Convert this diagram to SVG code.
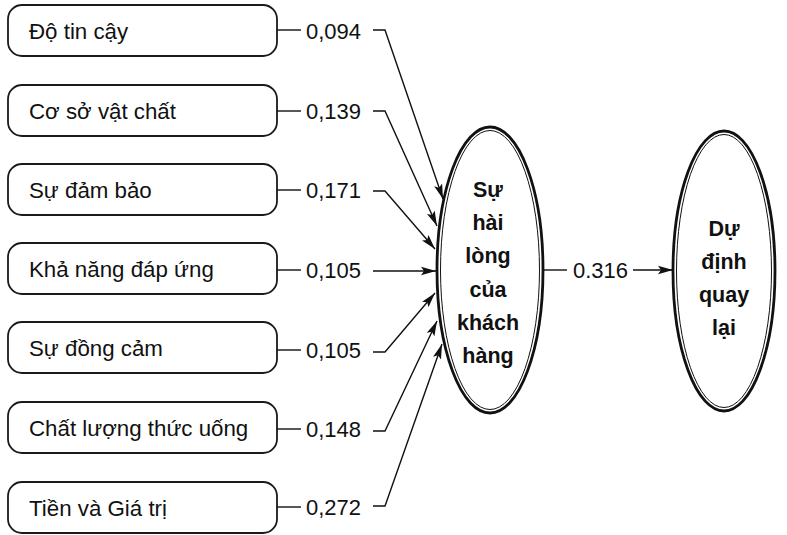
<svg xmlns="http://www.w3.org/2000/svg" width="787" height="535" viewBox="0 0 787 535">
<style>
.box{fill:#fff;stroke:#1a1a1a;stroke-width:1.8}
.lbl{font-family:"Liberation Sans",Arial,sans-serif;font-size:22.3px;fill:#111}
.num{font-family:"Liberation Sans",Arial,sans-serif;font-size:22px;fill:#111}
.bold{font-family:"Liberation Sans",Arial,sans-serif;font-size:21.5px;font-weight:bold;fill:#111;text-anchor:middle}
.ln{fill:none;stroke:#111;stroke-width:1.4}
.eo{fill:#fff;stroke:#111;stroke-width:2.8}
.ei{fill:none;stroke:#111;stroke-width:1}
</style>
<defs>
<marker id="ah" markerUnits="userSpaceOnUse" markerWidth="16" markerHeight="10" refX="15" refY="5" orient="auto">
<path d="M0,0.8 L15,5 L0,9.2 L3,5 Z" fill="#111"/>
</marker>
</defs>
<rect width="787" height="535" fill="#fff"/>
<g id="n1"><rect class="box" x="8" y="5" width="269" height="51" rx="14"/><text class="lbl" x="29" y="39">Độ tin cậy</text></g>
<g id="n2"><rect class="box" x="8" y="85" width="269" height="51" rx="14"/><text class="lbl" x="29" y="119">Cơ sở vật chất</text></g>
<g id="n3"><rect class="box" x="8" y="164" width="269" height="51" rx="14"/><text class="lbl" x="29" y="198">Sự đảm bảo</text></g>
<g id="n4"><rect class="box" x="8" y="243" width="269" height="51" rx="14"/><text class="lbl" x="29" y="277">Khả năng đáp ứng</text></g>
<g id="n5"><rect class="box" x="8" y="322" width="269" height="51" rx="14"/><text class="lbl" x="29" y="356">Sự đồng cảm</text></g>
<g id="n6"><rect class="box" x="8" y="402" width="269" height="51" rx="14"/><text class="lbl" x="29" y="436">Chất lượng thức uống</text></g>
<g id="n7"><rect class="box" x="8" y="482" width="269" height="51" rx="14"/><text class="lbl" x="29" y="516">Tiền và Giá trị</text></g>
<g id="sat"><ellipse class="eo" cx="490" cy="270" rx="53" ry="143"/><ellipse class="ei" cx="490" cy="270" rx="49.5" ry="139.5"/>
<text class="bold" x="488" y="197">Sự</text><text class="bold" x="488" y="230">hài</text><text class="bold" x="488" y="263">lòng</text><text class="bold" x="488" y="297">của</text><text class="bold" x="488" y="330">khách</text><text class="bold" x="488" y="363">hàng</text></g>
<g id="intent"><ellipse class="eo" cx="724" cy="271" rx="51" ry="140"/><ellipse class="ei" cx="724" cy="271" rx="47.5" ry="136.5"/>
<text class="bold" x="724" y="236">Dự</text><text class="bold" x="724" y="269">định</text><text class="bold" x="724" y="302">quay</text><text class="bold" x="724" y="335">lại</text></g>
<g id="connectors">
<path class="ln" d="M277,30 H301"/><text class="num" x="306" y="38.5">0,094</text><path class="ln" d="M373,30 H385 L443,199" marker-end="url(#ah)"/>
<path class="ln" d="M277,111 H301"/><text class="num" x="306" y="119">0,139</text><path class="ln" d="M373,111 H385 L437,226" marker-end="url(#ah)"/>
<path class="ln" d="M277,190 H301"/><text class="num" x="306" y="198">0,171</text><path class="ln" d="M373,191 H385 L435,249" marker-end="url(#ah)"/>
<path class="ln" d="M277,270 H301"/><text class="num" x="306" y="278">0,105</text><path class="ln" d="M373,271 H436" marker-end="url(#ah)"/>
<path class="ln" d="M277,350 H301"/><text class="num" x="306" y="358">0,105</text><path class="ln" d="M373,352 H385 L435,293" marker-end="url(#ah)"/>
<path class="ln" d="M277,429 H301"/><text class="num" x="306" y="437">0,148</text><path class="ln" d="M373,431 H385 L437,321" marker-end="url(#ah)"/>
<path class="ln" d="M277,507 H301"/><text class="num" x="306" y="515">0,272</text><path class="ln" d="M373,506 H385 L442,344" marker-end="url(#ah)"/>
<path class="ln" d="M543,270 H567"/><text class="num" x="573" y="278">0.316</text><path class="ln" d="M633,270 H673" marker-end="url(#ah)"/>
</g>
</svg>
